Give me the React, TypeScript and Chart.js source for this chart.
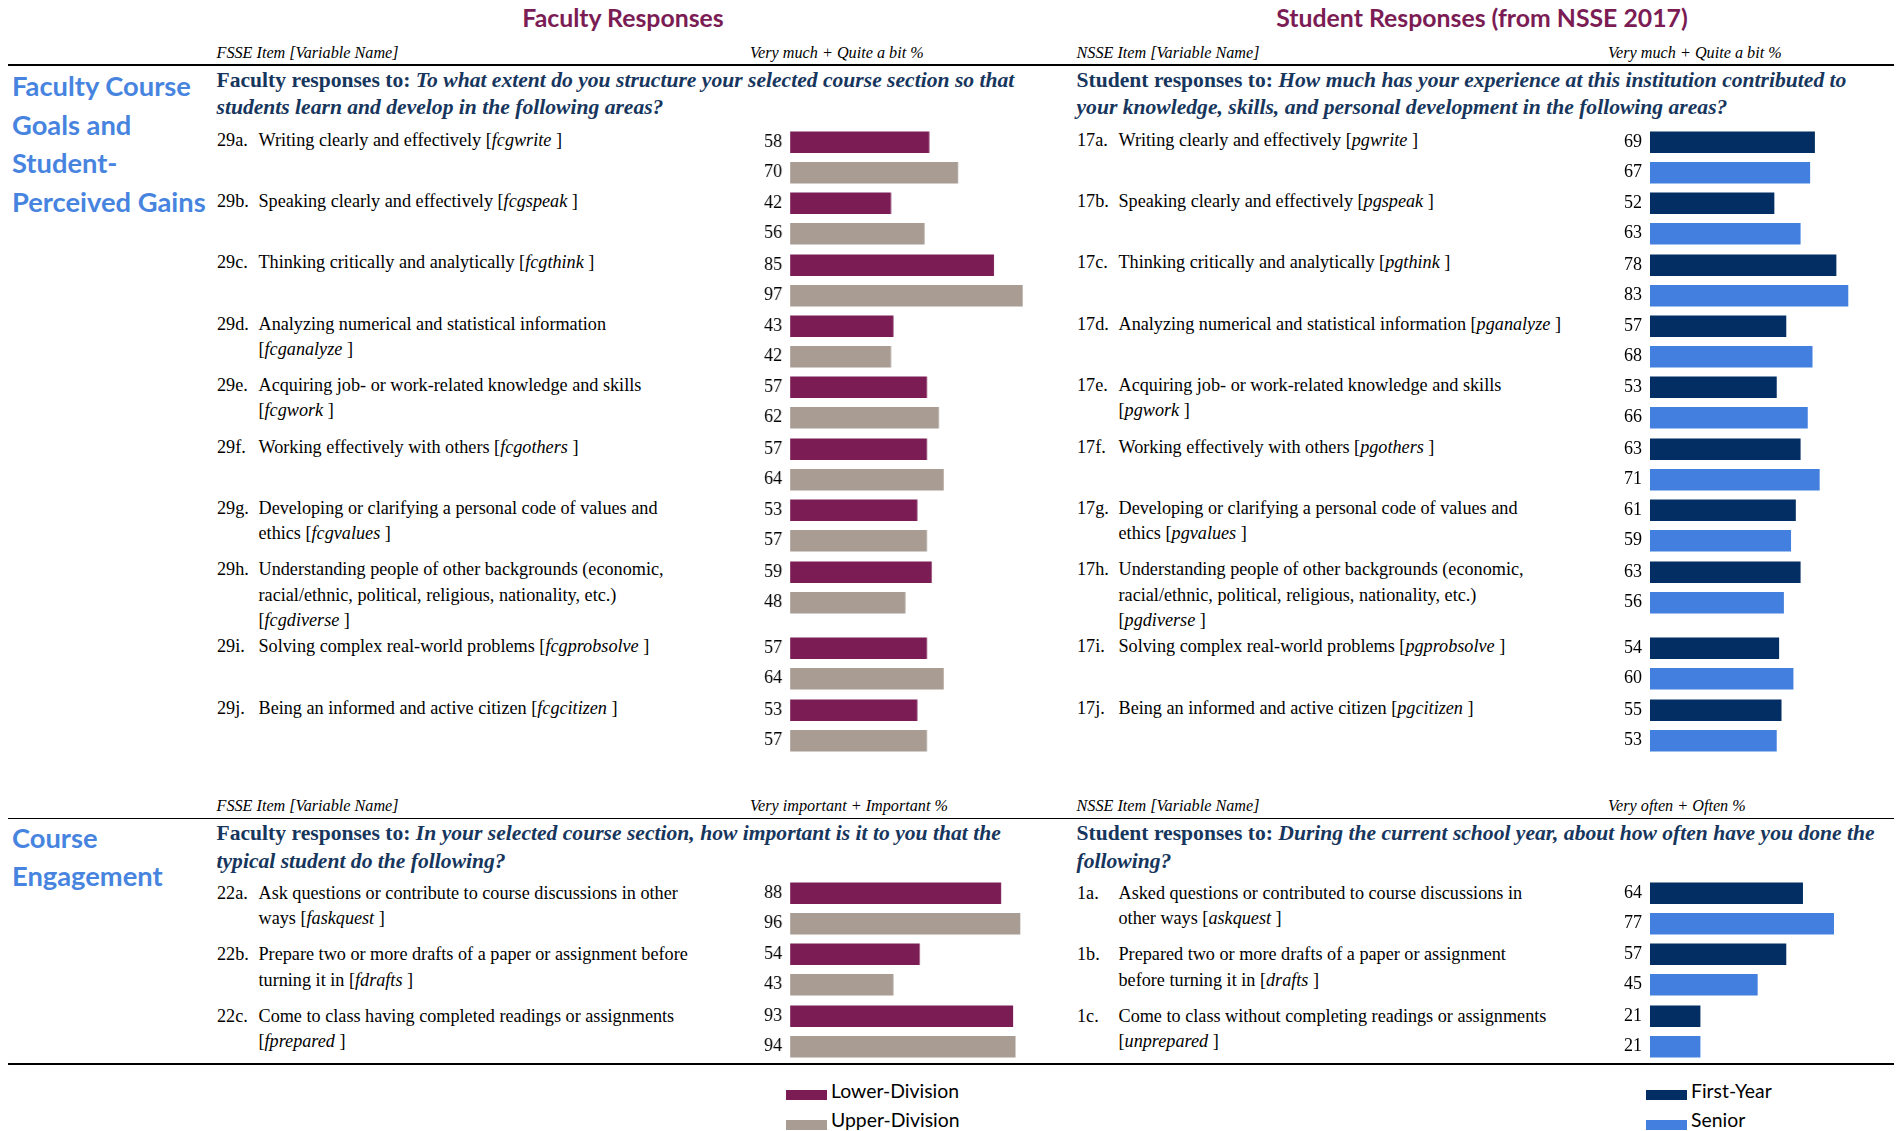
import React, { useEffect, useRef } from 'react';
import { Chart, registerables } from 'chart.js';
Chart.register(...registerables);

// ---------------- DATA ----------------
const panelTitles = ['Faculty Responses', 'Student Responses (from NSSE 2017)'];

const gainsCodesFaculty = ['29a.', '29b.', '29c.', '29d.', '29e.', '29f.', '29g.', '29h.', '29i.', '29j.'];
const gainsItemsFaculty = [
  'Writing clearly and effectively [_fcgwrite_ ]',
  'Speaking clearly and effectively [_fcgspeak_ ]',
  'Thinking critically and analytically [_fcgthink_ ]',
  'Analyzing numerical and statistical information|[_fcganalyze_ ]',
  'Acquiring job- or work-related knowledge and skills|[_fcgwork_ ]',
  'Working effectively with others [_fcgothers_ ]',
  'Developing or clarifying a personal code of values and|ethics [_fcgvalues_ ]',
  'Understanding people of other backgrounds (economic,|racial/ethnic, political, religious, nationality, etc.)|[_fcgdiverse_ ]',
  'Solving complex real-world problems [_fcgprobsolve_ ]',
  'Being an informed and active citizen [_fcgcitizen_ ]',
];
const gainsLowerDivision = [58, 42, 85, 43, 57, 57, 53, 59, 57, 53];
const gainsUpperDivision = [70, 56, 97, 42, 62, 64, 57, 48, 64, 57];

const gainsCodesStudent = ['17a.', '17b.', '17c.', '17d.', '17e.', '17f.', '17g.', '17h.', '17i.', '17j.'];
const gainsItemsStudent = [
  'Writing clearly and effectively [_pgwrite_ ]',
  'Speaking clearly and effectively [_pgspeak_ ]',
  'Thinking critically and analytically [_pgthink_ ]',
  'Analyzing numerical and statistical information [_pganalyze_ ]',
  'Acquiring job- or work-related knowledge and skills|[_pgwork_ ]',
  'Working effectively with others [_pgothers_ ]',
  'Developing or clarifying a personal code of values and|ethics [_pgvalues_ ]',
  'Understanding people of other backgrounds (economic,|racial/ethnic, political, religious, nationality, etc.)|[_pgdiverse_ ]',
  'Solving complex real-world problems [_pgprobsolve_ ]',
  'Being an informed and active citizen [_pgcitizen_ ]',
];
const gainsFirstYear = [69, 52, 78, 57, 53, 63, 61, 63, 54, 55];
const gainsSenior = [67, 63, 83, 68, 66, 71, 59, 56, 60, 53];

const engageCodesFaculty = ['22a.', '22b.', '22c.'];
const engageItemsFaculty = [
  'Ask questions or contribute to course discussions in other|ways [_faskquest_ ]',
  'Prepare two or more drafts of a paper or assignment before|turning it in [_fdrafts_ ]',
  'Come to class having completed readings or assignments|[_fprepared_ ]',
];
const engageLowerDivision = [88, 54, 93];
const engageUpperDivision = [96, 43, 94];

const engageCodesStudent = ['1a.', '1b.', '1c.'];
const engageItemsStudent = [
  'Asked questions or contributed to course discussions in|other ways [_askquest_ ]',
  'Prepared two or more drafts of a paper or assignment|before turning it in [_drafts_ ]',
  'Come to class without completing readings or assignments|[_unprepared_ ]',
];
const engageFirstYear = [64, 57, 21];
const engageSenior = [77, 45, 21];

const sectionLabels = [['Faculty Course', 'Goals and', 'Student-', 'Perceived Gains'], ['Course', 'Engagement']];
const itemHeaders = ['FSSE Item [Variable Name]', 'NSSE Item [Variable Name]'];
const scaleHeaders = [
  ['Very much + Quite a bit %', 'Very much + Quite a bit %'],
  ['Very important + Important %', 'Very often + Often %'],
];
const questionLeads = ['Faculty responses to:', 'Student responses to:'];
const questions = [
  [
    ['To what extent do you structure your selected course section so that', 'students learn and develop in the following areas?'],
    ['How much has your experience at this institution contributed to', 'your knowledge, skills, and personal development in the following areas?'],
  ],
  [
    ['In your selected course section, how important is it to you that the', 'typical student do the following?'],
    ['During the current school year, about how often have you done the', 'following?'],
  ],
];
const facultyLegend = ['Lower-Division', 'Upper-Division'];
const studentLegend = ['First-Year', 'Senior'];

// ---------------- STYLE ----------------
const MAROON = '#7B1C54';
const TAUPE = '#A89C93';
const NAVY = '#022E63';
const BLUE = '#427FDE';
const LABEL_BLUE = '#4784E0';
const Q_NAVY = '#17365D';
const SERIF = '"Liberation Serif", "Times New Roman", serif';
const SANS = 'Lato, "Open Sans", sans-serif';

const FS_ITEM = 18.2;
const LH_ITEM = 25.3;
const SLOT = 30.7;
const AXIS_W = 50;
const COLS = [
  { code: 217, text: 258.5, bar: 790, hdr: 750, plotW: 238.5 },
  { code: 1077, text: 1118.5, bar: 1649.5, hdr: 1608, plotW: 238.5 },
];

type TxtProps = {
  x: number; base: number; size: number; lh?: number; sans?: boolean; bold?: boolean;
  italic?: boolean; color?: string; center?: boolean; children: any;
};
function Txt(p: TxtProps) {
  const lh = p.lh ?? p.size * 1.3;
  const A = p.sans ? 0.987 : 0.891;
  const D = p.sans ? 0.213 : 0.216;
  const top = p.base - ((lh - (A + D) * p.size) / 2 + A * p.size);
  const style: any = {
    position: 'absolute', top, whiteSpace: 'pre', fontFamily: p.sans ? SANS : SERIF,
    fontSize: p.size, lineHeight: lh + 'px', fontWeight: p.bold ? 700 : 400,
    fontStyle: p.italic ? 'italic' : 'normal', color: p.color ?? '#000',
  };
  if (p.center) { style.left = p.x - 600; style.width = 1200; style.textAlign = 'center'; }
  else style.left = p.x;
  return <div style={style}>{p.children}</div>;
}

function rich(s: string) {
  return s.split('_').map((t, k) => (k % 2 === 1 ? <i key={k}>{t}</i> : <span key={k}>{t}</span>));
}

// draws each bar's value to the left of the bar start
const valueLabels = {
  id: 'valueLabels',
  afterDatasetsDraw(chart: any) {
    const ctx = chart.ctx;
    const meta = chart.getDatasetMeta(0);
    const vals = chart.data.datasets[0].data;
    ctx.save();
    ctx.font = `18px ${SERIF}`;
    ctx.fillStyle = '#000';
    ctx.textAlign = 'right';
    ctx.textBaseline = 'middle';
    meta.data.forEach((el: any, i: number) => {
      ctx.fillText(String(vals[i]), chart.chartArea.left - 8, el.y);
    });
    ctx.restore();
  },
};

function MiniBar({ left, top, plotW, values, colors }: { left: number; top: number; plotW: number; values: number[]; colors: string[] }) {
  const ref = useRef<HTMLCanvasElement>(null);
  useEffect(() => {
    const chart = new Chart(ref.current!, {
      type: 'bar',
      data: {
        labels: values.map((v) => String(v)),
        datasets: [{ data: values, backgroundColor: colors, barThickness: 20.8, categoryPercentage: 1 } as any],
      },
      options: {
        indexAxis: 'y',
        animation: false,
        responsive: true,
        maintainAspectRatio: false,
        layout: { padding: { left: AXIS_W, right: 0, top: 0, bottom: 0 } },
        plugins: { legend: { display: false }, tooltip: { enabled: false } },
        scales: {
          x: { display: false, min: 0, max: 100 },
          y: { display: false },
        },
      } as any,
      plugins: [valueLabels as any],
    });
    return () => chart.destroy();
  }, []);
  return (
    <div style={{ position: 'absolute', left: left - AXIS_W, top: Math.round(top), width: AXIS_W + plotW, height: Math.round(2 * SLOT) }}>
      <canvas ref={ref} />
    </div>
  );
}

type Side = { codes: string[]; items: string[]; a: number[]; b: number[]; colors: string[] };

function Rows({ top, sides, textDy }: { top: number; sides: Side[]; textDy: number }) {
  const out: any[] = [];
  let y = top;
  const n = sides[0].codes.length;
  for (let i = 0; i < n; i++) {
    let maxLines = 1;
    sides.forEach((sd, si) => {
      const lines = sd.items[i].split('|');
      maxLines = Math.max(maxLines, lines.length);
      const col = COLS[si];
      const base = y + 19.5 + textDy;
      out.push(<Txt key={`c${si}-${i}`} x={col.code} base={base} size={FS_ITEM} lh={LH_ITEM}>{sd.codes[i]}</Txt>);
      out.push(
        <Txt key={`t${si}-${i}`} x={col.text} base={base} size={FS_ITEM} lh={LH_ITEM}>
          {lines.map((l, k) => (<React.Fragment key={k}>{rich(l)}{k < lines.length - 1 ? <br /> : null}</React.Fragment>))}
        </Txt>
      );
      out.push(<MiniBar key={`b${si}-${i}`} left={col.bar} top={y} plotW={col.plotW} values={[sd.a[i], sd.b[i]]} colors={sd.colors} />);
    });
    y += Math.max(2 * SLOT, maxLines * LH_ITEM + 1);
  }
  return <>{out}</>;
}

function HLine({ y }: { y: number }) {
  return <div style={{ position: 'absolute', left: 8, width: 1886, top: y - 0.75, height: 1.5, background: '#000' }} />;
}

function Section({ idx, hdrBase, lineY, qBase, qLh, labelBase, rowsTop, textDy, sides }: any) {
  return (
    <>
      {COLS.map((c, si) => (
        <React.Fragment key={si}>
          <Txt x={c.code - 0.5} base={hdrBase} size={16.2} italic>{itemHeaders[si]}</Txt>
          <Txt x={c.hdr} base={hdrBase} size={16.2} italic>{scaleHeaders[idx][si]}</Txt>
          <Txt x={c.code - 0.5} base={qBase} size={21.6} lh={qLh} bold color={Q_NAVY}>
            {questionLeads[si] + ' '}<i>{questions[idx][si][0]}</i><br /><i>{questions[idx][si][1]}</i>
          </Txt>
        </React.Fragment>
      ))}
      <HLine y={lineY} />
      <Txt x={12} base={labelBase} size={27.3} lh={38.5} sans bold color={LABEL_BLUE}>
        {sectionLabels[idx].map((l, k) => (<React.Fragment key={k}>{l}{k < sectionLabels[idx].length - 1 ? <br /> : null}</React.Fragment>))}
      </Txt>
      <Rows top={rowsTop} sides={sides} textDy={textDy} />
    </>
  );
}

function Legend({ x, labels, colors }: { x: number; labels: string[]; colors: string[] }) {
  return (
    <>
      {labels.map((l, k) => (
        <React.Fragment key={k}>
          <div style={{ position: 'absolute', left: x, top: 1090 + k * 29.5, width: 41, height: 10, background: colors[k] }} />
          <Txt x={x + 45} base={1098.3 + k * 29.5} size={19.4} lh={24} sans color="#000">{l}</Txt>
        </React.Fragment>
      ))}
    </>
  );
}

export default function App() {
  return (
    <div style={{ position: 'absolute', left: 0, top: 0, width: 1902, height: 1131, overflow: 'hidden', background: '#fff' }}>
      <Txt x={623} base={27.5} size={24.8} sans bold color={MAROON} center>{panelTitles[0]}</Txt>
      <Txt x={1482} base={27.5} size={24.8} sans bold color={MAROON} center>{panelTitles[1]}</Txt>
      <Section
        idx={0} hdrBase={59.2} lineY={65} qBase={87.6} qLh={26.7} labelBase={97} rowsTop={126.8} textDy={0}
        sides={[
          { codes: gainsCodesFaculty, items: gainsItemsFaculty, a: gainsLowerDivision, b: gainsUpperDivision, colors: [MAROON, TAUPE] },
          { codes: gainsCodesStudent, items: gainsItemsStudent, a: gainsFirstYear, b: gainsSenior, colors: [NAVY, BLUE] },
        ]}
      />
      <Section
        idx={1} hdrBase={811.6} lineY={818.3} qBase={841.3} qLh={27.6} labelBase={848.5} rowsTop={878} textDy={2.2}
        sides={[
          { codes: engageCodesFaculty, items: engageItemsFaculty, a: engageLowerDivision, b: engageUpperDivision, colors: [MAROON, TAUPE] },
          { codes: engageCodesStudent, items: engageItemsStudent, a: engageFirstYear, b: engageSenior, colors: [NAVY, BLUE] },
        ]}
      />
      <HLine y={1064} />
      <Legend x={786} labels={facultyLegend} colors={[MAROON, TAUPE]} />
      <Legend x={1646} labels={studentLegend} colors={[NAVY, BLUE]} />
    </div>
  );
}
